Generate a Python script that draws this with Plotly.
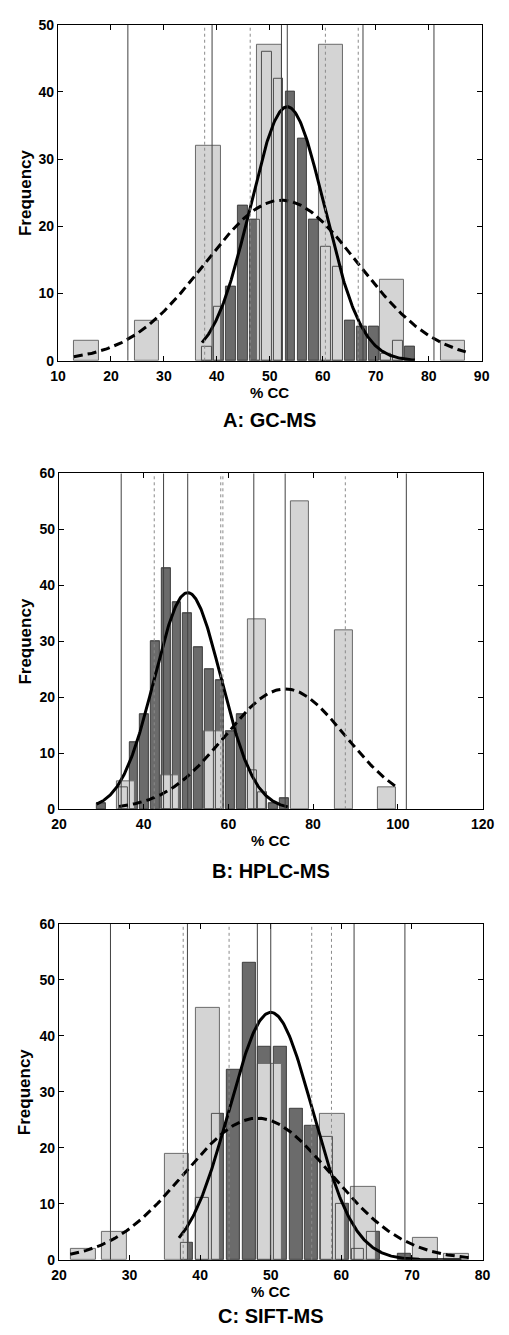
import numpy as np
import plotly.graph_objects as go

# ---------------- data ----------------
# Panel A: GC-MS
a_wide_x = [15.35, 26.85, 38.4, 49.95, 61.5, 73.05, 84.55]
a_wide_y = [3, 6, 32, 47, 47, 12, 3]
a_fine_x = [38.15, 40.4, 42.65, 44.9, 47.15, 49.4, 51.65, 53.9, 56.15, 58.4,
            60.65, 62.9, 65.15, 67.4, 69.65, 71.9, 74.15, 76.4]
a_fine_y = [2, 8, 11, 23, 21, 46, 42, 40, 33, 21, 17, 14, 6, 5, 5, 1, 3, 2]
a_fit_fine = dict(mean=53.3, sd=7.0, peak=37.8, lo=37.2, hi=77.4)
a_fit_wide = dict(mean=52.2, sd=14.45, peak=23.9, lo=13.0, hi=87.0)
a_lines_solid = [23.2, 39.1, 52.2, 53.3, 67.6, 81.0]
a_lines_dotted = [37.7, 46.3, 60.5, 66.7]

# Panel B: HPLC-MS
b_wide_x = [35.9, 46.2, 56.45, 66.7, 76.95, 87.2, 97.45]
b_wide_y = [5, 6, 14, 34, 55, 32, 4]
b_fine_x = [30.1, 35.2, 37.7, 40.25, 42.8, 45.3, 47.85, 50.4, 52.9, 55.45,
            58.0, 60.5, 63.05, 65.6, 68.1, 70.65, 73.2]
b_fine_y = [1, 4, 12, 17, 30, 43, 37, 35, 29, 25, 23, 14, 17, 7, 3, 1, 2]
b_fit_fine = dict(mean=50.4, sd=7.85, peak=38.7, lo=28.9, hi=74.0)
b_fit_wide = dict(mean=73.4, sd=14.3, peak=21.5, lo=34.2, hi=99.8)
b_lines_solid = [34.7, 44.7, 50.4, 66.0, 73.4, 102.0]
b_lines_dotted = [42.5, 58.2, 58.7, 87.6]

# Panel C: SIFT-MS
c_wide_x = [23.5, 27.9, 36.7, 41.1, 49.9, 58.7, 63.1, 71.9, 76.3]
c_wide_y = [2, 5, 19, 45, 35, 26, 13, 4, 1]
c_fine_x = [38.1, 40.3, 42.5, 44.7, 46.95, 49.1, 51.35, 53.6, 55.75, 57.95,
            60.15, 62.35, 64.55, 68.95]
c_fine_y = [3, 11, 26, 34, 53, 38, 38, 27, 24, 22, 10, 2, 5, 1]
c_fit_fine = dict(mean=50.0, sd=5.9, peak=44.2, lo=37.0, hi=77.0)
c_fit_wide = dict(mean=48.1, sd=10.4, peak=25.3, lo=21.6, hi=78.5)
c_lines_solid = [27.3, 38.2, 48.1, 50.0, 61.8, 69.0]
c_lines_dotted = [37.6, 44.1, 55.8, 58.6]

titles = ["A: GC-MS", "B: HPLC-MS", "C: SIFT-MS"]
x_title = "% CC"
y_title = "Frequency"

# ---------------- styling / layout ----------------
W, H = 509, 1335
FONT = "Liberation Sans, Arial, Helvetica, sans-serif"
LIGHT = "#d4d4d4"
LIGHT_EDGE = "#6a6a6a"
DARK = "#6b6b6b"
DARK_EDGE = "#3a3a3a"

panels = [
    dict(wx=a_wide_x, wy=a_wide_y, fx=a_fine_x, fy=a_fine_y, ff=a_fit_fine, fw=a_fit_wide,
         ls=a_lines_solid, ld=a_lines_dotted, xr=[10, 90], dx=10, yr=[0, 50],
         ww=4.6, fwid=1.85, px=(52, 493), py=(17, 357)),
    dict(wx=b_wide_x, wy=b_wide_y, fx=b_fine_x, fy=b_fine_y, ff=b_fit_fine, fw=b_fit_wide,
         ls=b_lines_solid, ld=b_lines_dotted, xr=[20, 120], dx=20, yr=[0, 60],
         ww=4.3, fwid=2.1, px=(53, 494), py=(471, 811)),
    dict(wx=c_wide_x, wy=c_wide_y, fx=c_fine_x, fy=c_fine_y, ff=c_fit_fine, fw=c_fit_wide,
         ls=c_lines_solid, ld=c_lines_dotted, xr=[20, 80], dx=10, yr=[0, 60],
         ww=3.5, fwid=1.78, px=(53, 494), py=(927, 1267)),
]

title_y = [417, 873, 1324]
xlab_y = [389, 843, 1299]

fig = go.Figure()
shapes = []
annotations = []


def gauss(p):
    x = np.linspace(p["lo"], p["hi"], 300)
    y = p["peak"] * np.exp(-0.5 * ((x - p["mean"]) / p["sd"]) ** 2)
    return x, y


for i, p in enumerate(panels):
    s = "" if i == 0 else str(i + 1)
    xa, ya = "x" + s, "y" + s
    # dark fine-bin histogram (back)
    fig.add_trace(go.Bar(x=p["fx"], y=p["fy"], width=p["fwid"], xaxis=xa, yaxis=ya,
                         marker=dict(color=DARK, line=dict(color=DARK_EDGE, width=1)),
                         showlegend=False, hoverinfo="skip"))
    # light wide-bin histogram
    fig.add_trace(go.Bar(x=p["wx"], y=p["wy"], width=p["ww"], xaxis=xa, yaxis=ya,
                         marker=dict(color=LIGHT, line=dict(color=LIGHT_EDGE, width=1)),
                         showlegend=False, hoverinfo="skip"))
    # outlines of the fine bins drawn on top
    fig.add_trace(go.Bar(x=p["fx"], y=p["fy"], width=p["fwid"], xaxis=xa, yaxis=ya,
                         marker=dict(color="rgba(0,0,0,0)", line=dict(color="#505050", width=1)),
                         showlegend=False, hoverinfo="skip"))
    # fitted curves
    gx, gy = gauss(p["ff"])
    fig.add_trace(go.Scatter(x=gx, y=gy, mode="lines", xaxis=xa, yaxis=ya,
                             line=dict(color="black", width=3), showlegend=False,
                             hoverinfo="skip"))
    gx, gy = gauss(p["fw"])
    fig.add_trace(go.Scatter(x=gx, y=gy, mode="lines", xaxis=xa, yaxis=ya,
                             line=dict(color="black", width=3, dash="9px,5px"),
                             showlegend=False, hoverinfo="skip"))
    # vertical reference lines
    for v in p["ls"]:
        shapes.append(dict(type="line", xref=xa, yref=ya, x0=v, x1=v, y0=p["yr"][0],
                           y1=p["yr"][1], layer="above",
                           line=dict(color="#404040", width=1)))
    for v in p["ld"]:
        shapes.append(dict(type="line", xref=xa, yref=ya, x0=v, x1=v, y0=p["yr"][0],
                           y1=p["yr"][1], layer="above",
                           line=dict(color="#8a8a8a", width=1, dash="dot")))

    x0, x1 = p["px"]
    y0, y1 = p["py"]
    axis_common = dict(showline=True, linecolor="black", linewidth=1, mirror="ticks",
                       ticks="inside", ticklen=5, tickcolor="black", showgrid=False,
                       zeroline=False, fixedrange=True,
                       tickfont=dict(family=FONT, size=14, color="black", weight="bold"))
    fig.update_layout(**{
        "xaxis" + s: dict(domain=[x0 / W, x1 / W], range=p["xr"], dtick=p["dx"],
                          tick0=p["xr"][0], anchor=ya, ticklabelstandoff=2, **axis_common),
        "yaxis" + s: dict(domain=[1 - y1 / H, 1 - y0 / H], range=p["yr"], dtick=10,
                          anchor=xa, **axis_common),
    })
    cx = (x0 + x1) / 2
    annotations.append(dict(text=titles[i], x=cx / W, y=1 - title_y[i] / H, xref="paper",
                            yref="paper", showarrow=False, xanchor="center", yanchor="middle",
                            font=dict(family=FONT, size=20, color="black", weight="bold")))
    annotations.append(dict(text=x_title, x=cx / W, y=1 - xlab_y[i] / H, xref="paper",
                            yref="paper", showarrow=False, xanchor="center", yanchor="middle",
                            font=dict(family=FONT, size=15, color="black", weight="bold")))
    annotations.append(dict(text=y_title, x=18 / W, y=1 - ((y0 + y1) / 2) / H, xref="paper",
                            yref="paper", showarrow=False, textangle=-90, xanchor="center",
                            yanchor="middle",
                            font=dict(family=FONT, size=17, color="black", weight="bold")))

fig.update_layout(width=W, height=H, margin=dict(l=0, r=0, t=0, b=0),
                  paper_bgcolor="white", plot_bgcolor="white", barmode="overlay",
                  bargap=0, shapes=shapes, annotations=annotations)

fig.write_html("out.html", config={"displayModeBar": False},
               post_script="document.body.style.margin='0';"
                           "document.body.style.overflow='hidden';")
